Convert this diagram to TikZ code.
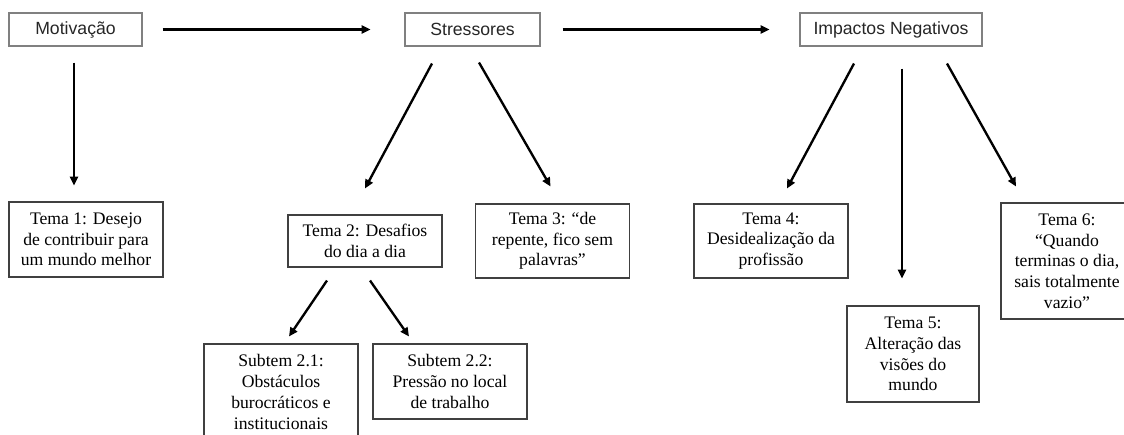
\documentclass[tikz,border=0pt]{standalone}
\usepackage{fontspec}
\setmainfont{Liberation Serif}
\newfontfamily\topfont{Liberation Sans}
\usetikzlibrary{arrows.meta}
\colorlet{TopBorder}{black!50}
\colorlet{ThemeBorder}{black!75}
\newcommand{\Px}{0.68pt}
\tikzset{
  top box/.style={draw=TopBorder, line width=0.7pt, minimum height=33*\Px,
    inner sep=2pt, text=black!85, font=\topfont\fontsize{12}{14}\selectfont},
  theme box/.style={draw=ThemeBorder, line width=0.7pt, align=center,
    inner sep=2pt, font=\fontsize{12}{14.1}\selectfont},
  seta/.style={line width=1.6pt, -{Triangle[length=6pt,width=5.5pt]}},
}

\begin{document}
\begin{tikzpicture}[x=\Px, y=-\Px]

    \useasboundingbox (0,0) rectangle (1124,435);

    % Linha de cima.
    \node[top box, minimum width=133*\Px] (mot) at (75.5,29.5) {Motivação};
    \node[top box, minimum width=135*\Px] (str) at (472.5,29.5) {Stressores};
    \node[top box, minimum width=182*\Px] (imp) at (891,29.5) {Impactos Negativos};

    % Temas.
    \node[theme box, minimum width=154*\Px, minimum height=75*\Px] (tema1) at (86,239.5)
        {Tema 1: Desejo\\de contribuir para\\um mundo melhor};
    \node[theme box, minimum width=154*\Px, minimum height=52*\Px] (tema2) at (365,241)
        {Tema 2: Desafios\\do dia a dia};
    \node[theme box, minimum width=154*\Px, minimum height=74*\Px] (tema3) at (552.5,241)
        {Tema 3: “de\\repente, fico sem\\palavras”};
    \node[theme box, minimum width=154*\Px, minimum height=74*\Px] (tema4) at (771,241)
        {Tema 4:\\Desidealização da\\profissão};
    \node[theme box, minimum width=132*\Px, minimum height=96*\Px] (tema5) at (913,354)
        {Tema 5:\\Alteração das\\visões do\\mundo};
    \node[theme box, minimum width=132*\Px, minimum height=116*\Px] (tema6) at (1067,261)
        {Tema 6:\\“Quando\\terminas o dia,\\sais totalmente\\vazio”};

    % Subtemas do tema 2.
    \node[theme box, minimum width=154*\Px, minimum height=96*\Px] (sub21) at (281,392)
        {Subtem 2.1:\\Obstáculos\\burocráticos e\\institucionais};
    \node[theme box, minimum width=154*\Px, minimum height=75*\Px] (sub22) at (450,381.5)
        {Subtem 2.2:\\Pressão no local\\de trabalho};

    % Setas.
    \draw[seta] ([xshift=20*\Px]mot.east) -- ([xshift=-34*\Px]str.west);
    \draw[seta] ([xshift=22*\Px]str.east) -- ([xshift=-30*\Px]imp.west);

    \draw[seta] ([shift={(-1.5,16)}]mot.south) -- ([shift={(-12,-16)}]tema1.north);
    \draw[seta] ([shift={(-40.5,17)}]str.south) -- ([shift={(0,-26)}]tema2.north);
    \draw[seta] ([shift={(6.5,16)}]str.south) -- ([shift={(-2,-17)}]tema3.north);
    \draw[seta] ([shift={(-38,13)}]tema2.south) -- ([shift={(8,-7)}]sub21.north);
    \draw[seta] ([shift={(5,13)}]tema2.south) -- ([shift={(-41,-7)}]sub22.north);
    \draw[seta] ([shift={(-37,17)}]imp.south) -- ([shift={(16,-15)}]tema4.north);
    \draw[seta] ([shift={(11,22)}]imp.south) -- ([shift={(-11,-27)}]tema5.north);
    \draw[seta] ([shift={(56,17)}]imp.south) -- ([shift={(-51,-16)}]tema6.north);
\end{tikzpicture}
\end{document}
